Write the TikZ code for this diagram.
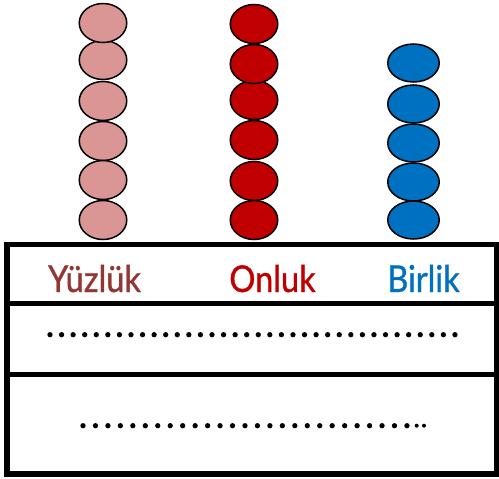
\documentclass[tikz,border=0pt]{standalone}
\usepackage{fontspec}
\setmainfont{Lato}
\newfontfamily\labelfont[FakeBold=1]{Lato}
\usepackage{tikz}
\usetikzlibrary{shapes.geometric}
\definecolor{yuzcol}{HTML}{943634}
\definecolor{yuzbead}{HTML}{DA9694}
\definecolor{oncol}{HTML}{C00000}
\definecolor{bircol}{HTML}{0070C0}

\begin{document}
\begin{tikzpicture}[x=1pt,y=-1pt,
        bead/.style={shape=ellipse,draw=black,line width=1.5pt,inner sep=0pt,minimum width=47.5pt,minimum height=39pt},
        label/.style={anchor=base,inner sep=0pt,xscale=0.88,font=\labelfont\fontsize{37}{37}\selectfont},
        frame/.style={line width=5.5pt}]
        \useasboundingbox (0,0) rectangle (499,479);
        % beads
        \foreach \y [count=\i] in {60,23,101,141,180,220}
            \node[bead,fill=yuzbead] (Y\i) at (103,\y) {};
        \foreach \y [count=\i] in {24,100,64,140,181,220}
            \node[bead,fill=oncol] (O\i) at (254,\y) {};
        \foreach \y [count=\i] in {63,104,143,182,220}
            \node[bead,fill=bircol,minimum width=51.5pt,minimum height=38pt] (B\i) at (413.5,\y) {};
        % table
        \draw[frame] (7,244.5) rectangle (497,474);
        \draw[frame] (7,303.5) -- (497,303.5);
        \draw[frame] (7,374.5) -- (497,374.5);
        \node[label,text=yuzcol] (yuzluk) at (94.5,292) {Yüzlük};
        \node[label,text=oncol] (onluk) at (272.5,292) {Onluk};
        \node[label,text=bircol] (birlik) at (423.5,292) {Birlik};
        % dots
        \foreach \i in {0,...,35}
            \fill (50+\i*11.57,334.7) circle (2.65);
        \foreach \i in {0,...,26}
            \fill (83+\i*12.46,425.7) circle (2.65);
        \fill (416.7,425.7) circle (2);
        \fill (424,425.7) circle (2);
    \end{tikzpicture}
\end{document}
